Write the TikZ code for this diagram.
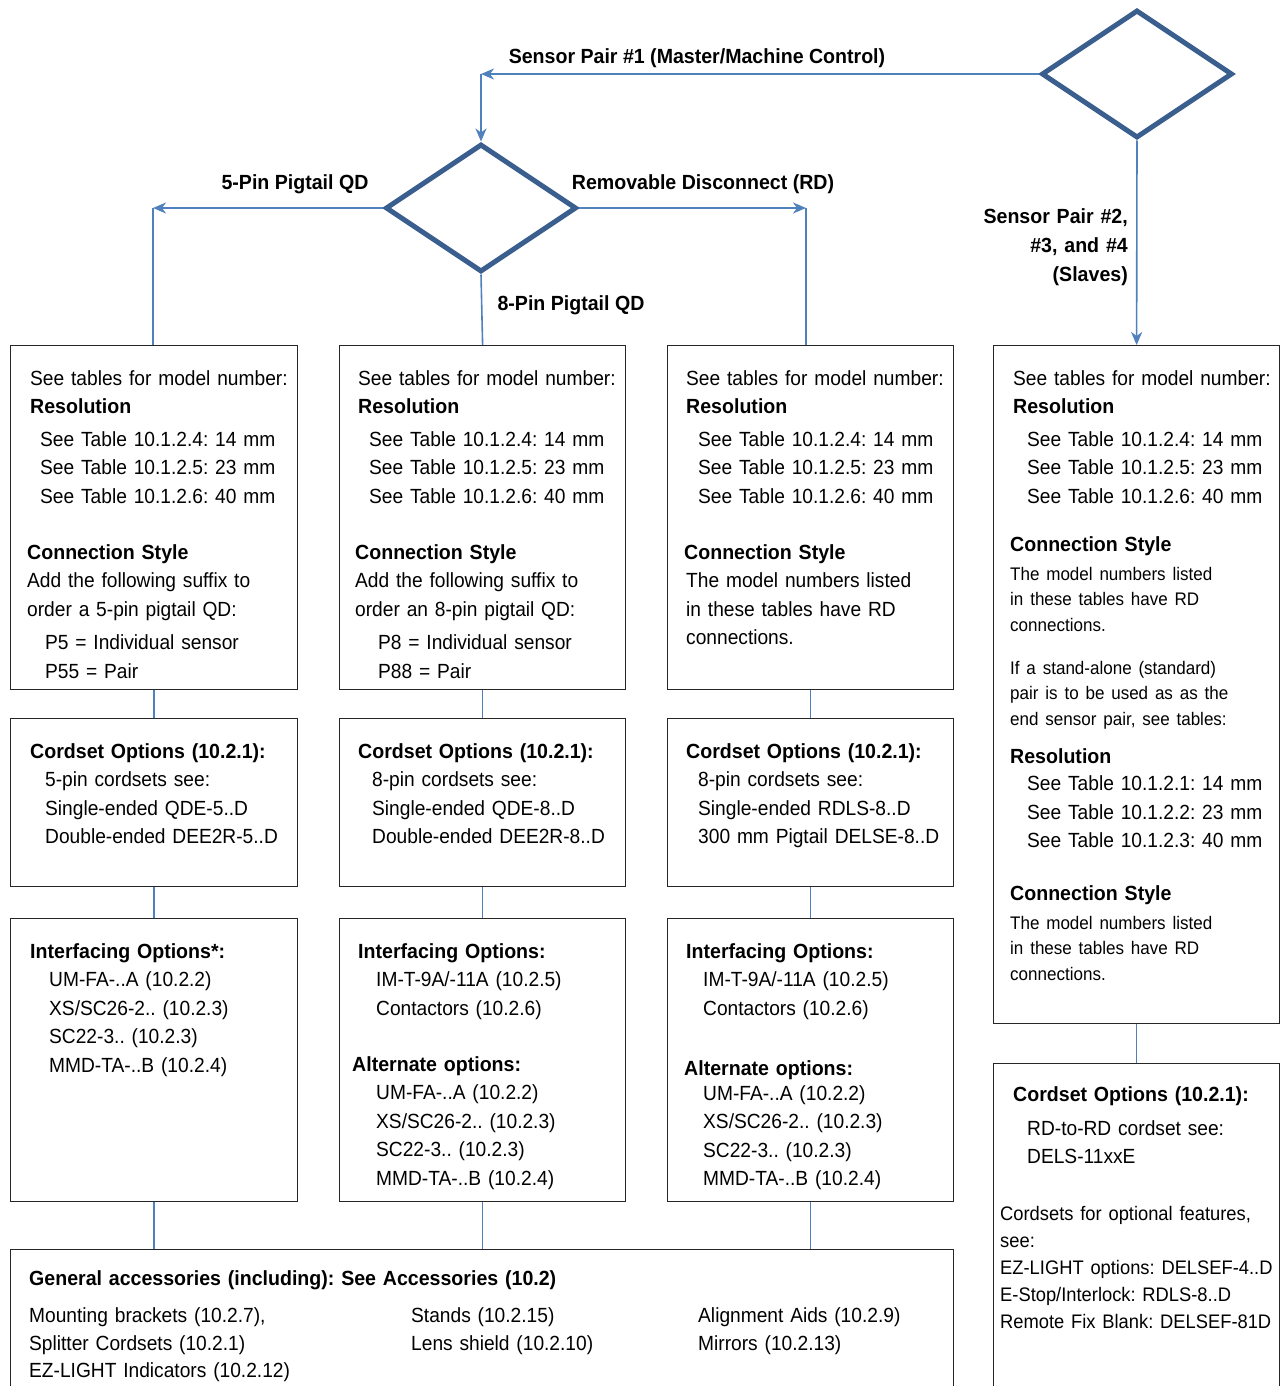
\documentclass[tikz,border=0pt]{standalone}
\usepackage{fontspec}
\setmainfont{Liberation Sans}[FakeStretch=0.935, BoldFeatures={FakeStretch=0.955}]
\usetikzlibrary{shapes.geometric,arrows.meta}

\definecolor{flowline}{HTML}{4F81BD}
\definecolor{decision}{HTML}{3A5F8E}

\newcommand{\bodyfont}{\fontsize{20.5}{28.5}\selectfont}
\newcommand{\smallbody}{\fontsize{18.2}{25.5}\selectfont}
\frenchspacing

\begin{document}
\begin{tikzpicture}[
  x=1pt, y=-1pt,
  choice/.style={diamond, draw=decision, line width=5pt, minimum width=191pt, minimum height=128pt, inner sep=0pt},
  panel/.style={draw=black!85, line width=1.2pt, anchor=north west, inner sep=0pt},
  txt/.style={anchor=base west, text width=300pt, align=left, inner sep=0pt, font=\bodyfont},
  lbl/.style={anchor=base, inner sep=0pt, font=\bodyfont\bfseries},
  flow/.style={draw=flowline, line width=1.6pt},
  arr/.style={flow, -{Stealth[length=13pt, width=11pt, inset=4pt]}}
  ]
	\useasboundingbox (0,0) rectangle (1280,1386);

	\node[choice] (sel) at (1137,74) {};
	\node[choice] (pin) at (481,208) {};

	\node[panel, minimum width=287pt, minimum height=344pt] (p11) at (10,345) {};
	\node[panel, minimum width=286pt, minimum height=344pt] (p21) at (339,345) {};
	\node[panel, minimum width=286pt, minimum height=344pt] (p31) at (667,345) {};
	\node[panel, minimum width=286pt, minimum height=678pt] (p41) at (993,345) {};

	\node[panel, minimum width=287pt, minimum height=168pt] (p12) at (10,718) {};
	\node[panel, minimum width=286pt, minimum height=168pt] (p22) at (339,718) {};
	\node[panel, minimum width=286pt, minimum height=168pt] (p32) at (667,718) {};
	\node[panel, minimum width=286pt, minimum height=340pt] (p42) at (993,1063) {};

	\node[panel, minimum width=287pt, minimum height=283pt] (p13) at (10,918) {};
	\node[panel, minimum width=286pt, minimum height=283pt] (p23) at (339,918) {};
	\node[panel, minimum width=286pt, minimum height=283pt] (p33) at (667,918) {};

	\node[panel, minimum width=943pt, minimum height=160pt] (gen) at (10,1249) {};

	% branch labels
	\node[lbl] (l1) at (697,64) {Sensor Pair \#1 (Master/Machine Control)};
	\node[lbl] (l2) at (295,189) {5-Pin Pigtail QD};
	\node[lbl] (l3) at (703,189) {Removable Disconnect (RD)};
	\node[lbl] (l4) at (571,310) {8-Pin Pigtail QD};
	\node[anchor=base east, text width=200pt, align=right, inner sep=0pt, font=\fontsize{20.5}{29}\selectfont\bfseries] (l5) at (1128,223)
	  {Sensor Pair \#2,\\ \#3, and \#4\\ (Slaves)};

	\coordinate (c1) at (481,74);
	\coordinate (c2) at (153,208);
	\coordinate (c3) at (806,208);

	\draw[arr] (sel.west) -- (c1);
	\draw[arr] (c1) -- (pin.north);
	\draw[arr] (pin.west) -- (c2);
	\draw[flow] (c2) -- (c2 |- p11.north);
	\draw[arr] (pin.east) -- (c3);
	\draw[flow] (c3) -- (c3 |- p31.north);
	\draw[flow] (pin.south) -- (p21.north);
	\draw[arr] (sel.south) -- (p41.north);

	\draw[flow] (p11.south) -- (p12.north);
	\draw[flow] (p12.south) -- (p13.north);
	\draw[flow] (p13.south) -- (p13.south |- gen.north);
	\draw[flow] (p21.south) -- (p22.north);
	\draw[flow] (p22.south) -- (p23.north);
	\draw[flow] (p23.south) -- (p23.south |- gen.north);
	\draw[flow] (p31.south) -- (p32.north);
	\draw[flow] (p32.south) -- (p33.north);
	\draw[flow] (p33.south) -- (p33.south |- gen.north);
	\draw[flow] (p41.south) -- (p42.north);

	% first row
	\node[txt] (t11) at (30,385) {See tables for model number:\\
	  \textbf{Resolution}\\[4pt]
	  \hspace*{10pt}See Table 10.1.2.4: 14 mm\\
	  \hspace*{10pt}See Table 10.1.2.5: 23 mm\\
	  \hspace*{10pt}See Table 10.1.2.6: 40 mm\\[27.5pt]
	  \hspace*{-3pt}\textbf{Connection Style}\\
	  \hspace*{-3pt}Add the following suffix to\\
	  \hspace*{-3pt}order a 5-pin pigtail QD:\\[5pt]
	  \hspace*{15pt}P5 = Individual sensor\\
	  \hspace*{15pt}P55 = Pair};
	\node[txt] (t21) at (358,385) {See tables for model number:\\
	  \textbf{Resolution}\\[4pt]
	  \hspace*{11pt}See Table 10.1.2.4: 14 mm\\
	  \hspace*{11pt}See Table 10.1.2.5: 23 mm\\
	  \hspace*{11pt}See Table 10.1.2.6: 40 mm\\[27.5pt]
	  \hspace*{-3pt}\textbf{Connection Style}\\
	  \hspace*{-3pt}Add the following suffix to\\
	  \hspace*{-3pt}order an 8-pin pigtail QD:\\[5pt]
	  \hspace*{20pt}P8 = Individual sensor\\
	  \hspace*{20pt}P88 = Pair};
	\node[txt] (t31) at (686,385) {See tables for model number:\\
	  \textbf{Resolution}\\[4pt]
	  \hspace*{12pt}See Table 10.1.2.4: 14 mm\\
	  \hspace*{12pt}See Table 10.1.2.5: 23 mm\\
	  \hspace*{12pt}See Table 10.1.2.6: 40 mm\\[27.5pt]
	  \hspace*{-2pt}\textbf{Connection Style}\\
	  The model numbers listed\\
	  in these tables have RD\\
	  connections.};
	\node[txt] (t41) at (1013,385) {See tables for model number:\\
	  \textbf{Resolution}\\[4pt]
	  \hspace*{14pt}See Table 10.1.2.4: 14 mm\\
	  \hspace*{14pt}See Table 10.1.2.5: 23 mm\\
	  \hspace*{14pt}See Table 10.1.2.6: 40 mm\\[20pt]
	  \hspace*{-3pt}\textbf{Connection Style}\par
	  \vspace{3pt}
	  {\smallbody\hspace*{-3pt}The model numbers listed\\
	  \hspace*{-3pt}in these tables have RD\\
	  \hspace*{-3pt}connections.\\[17.5pt]
	  \hspace*{-3pt}If a stand-alone (standard)\\
	  \hspace*{-3pt}pair is to be used as as the\\
	  \hspace*{-3pt}end sensor pair, see tables:\par}
	  \vspace{10pt}
	  \hspace*{-3pt}\textbf{Resolution}\\[-1.5pt]
	  \hspace*{14pt}See Table 10.1.2.1: 14 mm\\
	  \hspace*{14pt}See Table 10.1.2.2: 23 mm\\
	  \hspace*{14pt}See Table 10.1.2.3: 40 mm\\[24.5pt]
	  \hspace*{-3pt}\textbf{Connection Style}\par
	  \vspace{3pt}
	  {\smallbody\hspace*{-3pt}The model numbers listed\\
	  \hspace*{-3pt}in these tables have RD\\
	  \hspace*{-3pt}connections.\par}};

	% second row
	\node[txt] (t12) at (30,758) {\textbf{Cordset Options (10.2.1):}\\
	  \hspace*{15pt}5-pin cordsets see:\\
	  \hspace*{15pt}Single-ended QDE-5..D\\
	  \hspace*{15pt}Double-ended DEE2R-5..D};
	\node[txt] (t22) at (358,758) {\textbf{Cordset Options (10.2.1):}\\
	  \hspace*{14pt}8-pin cordsets see:\\
	  \hspace*{14pt}Single-ended QDE-8..D\\
	  \hspace*{14pt}Double-ended DEE2R-8..D};
	\node[txt] (t32) at (686,758) {\textbf{Cordset Options (10.2.1):}\\
	  \hspace*{12pt}8-pin cordsets see:\\
	  \hspace*{12pt}Single-ended RDLS-8..D\\
	  \hspace*{12pt}300 mm Pigtail DELSE-8..D};
	\node[txt] (t42) at (1013,1101) {\textbf{Cordset Options (10.2.1):}\\[5.5pt]
	  \hspace*{14pt}RD-to-RD cordset see:\\
	  \hspace*{14pt}DELS-11xxE\par
	  \vspace{29.5pt}
	  {\fontsize{19.6}{27}\selectfont
	  \hspace*{-13pt}Cordsets for optional features,\\
	  \hspace*{-13pt}see:\\
	  \hspace*{-13pt}EZ-LIGHT options: DELSEF-4..D\\
	  \hspace*{-13pt}E-Stop/Interlock: RDLS-8..D\\
	  \hspace*{-13pt}Remote Fix Blank: DELSEF-81D\par}};

	% third row
	\node[txt] (t13) at (30,958) {\textbf{Interfacing Options*:}\\
	  \hspace*{19pt}UM-FA-..A (10.2.2)\\
	  \hspace*{19pt}XS/SC26-2.. (10.2.3)\\
	  \hspace*{19pt}SC22-3.. (10.2.3)\\
	  \hspace*{19pt}MMD-TA-..B (10.2.4)};
	\node[txt] (t23) at (358,958) {\textbf{Interfacing Options:}\\
	  \hspace*{18pt}IM-T-9A/-11A (10.2.5)\\
	  \hspace*{18pt}Contactors (10.2.6)\\[27.5pt]
	  \hspace*{-6pt}\textbf{Alternate options:}\\
	  \hspace*{18pt}UM-FA-..A (10.2.2)\\
	  \hspace*{18pt}XS/SC26-2.. (10.2.3)\\
	  \hspace*{18pt}SC22-3.. (10.2.3)\\
	  \hspace*{18pt}MMD-TA-..B (10.2.4)};
	\node[txt] (t33) at (686,958) {\textbf{Interfacing Options:}\\
	  \hspace*{17pt}IM-T-9A/-11A (10.2.5)\\
	  \hspace*{17pt}Contactors (10.2.6)\\[31.5pt]
	  \hspace*{-2pt}\textbf{Alternate options:}\\[-3.5pt]
	  \hspace*{17pt}UM-FA-..A (10.2.2)\\
	  \hspace*{17pt}XS/SC26-2.. (10.2.3)\\
	  \hspace*{17pt}SC22-3.. (10.2.3)\\
	  \hspace*{17pt}MMD-TA-..B (10.2.4)};

	% accessories
	\node[txt, text width=700pt] (g1) at (29,1285) {\textbf{General accessories (including): See Accessories (10.2)}\\[8.5pt]
	  Mounting brackets (10.2.7),\\
	  Splitter Cordsets (10.2.1)\\[-1.5pt]
	  EZ-LIGHT Indicators (10.2.12)};
	\node[txt] (g2) at (411,1322) {Stands (10.2.15)\\ Lens shield (10.2.10)};
	\node[txt] (g3) at (698,1322) {Alignment Aids (10.2.9)\\ Mirrors (10.2.13)};
\end{tikzpicture}
\end{document}
